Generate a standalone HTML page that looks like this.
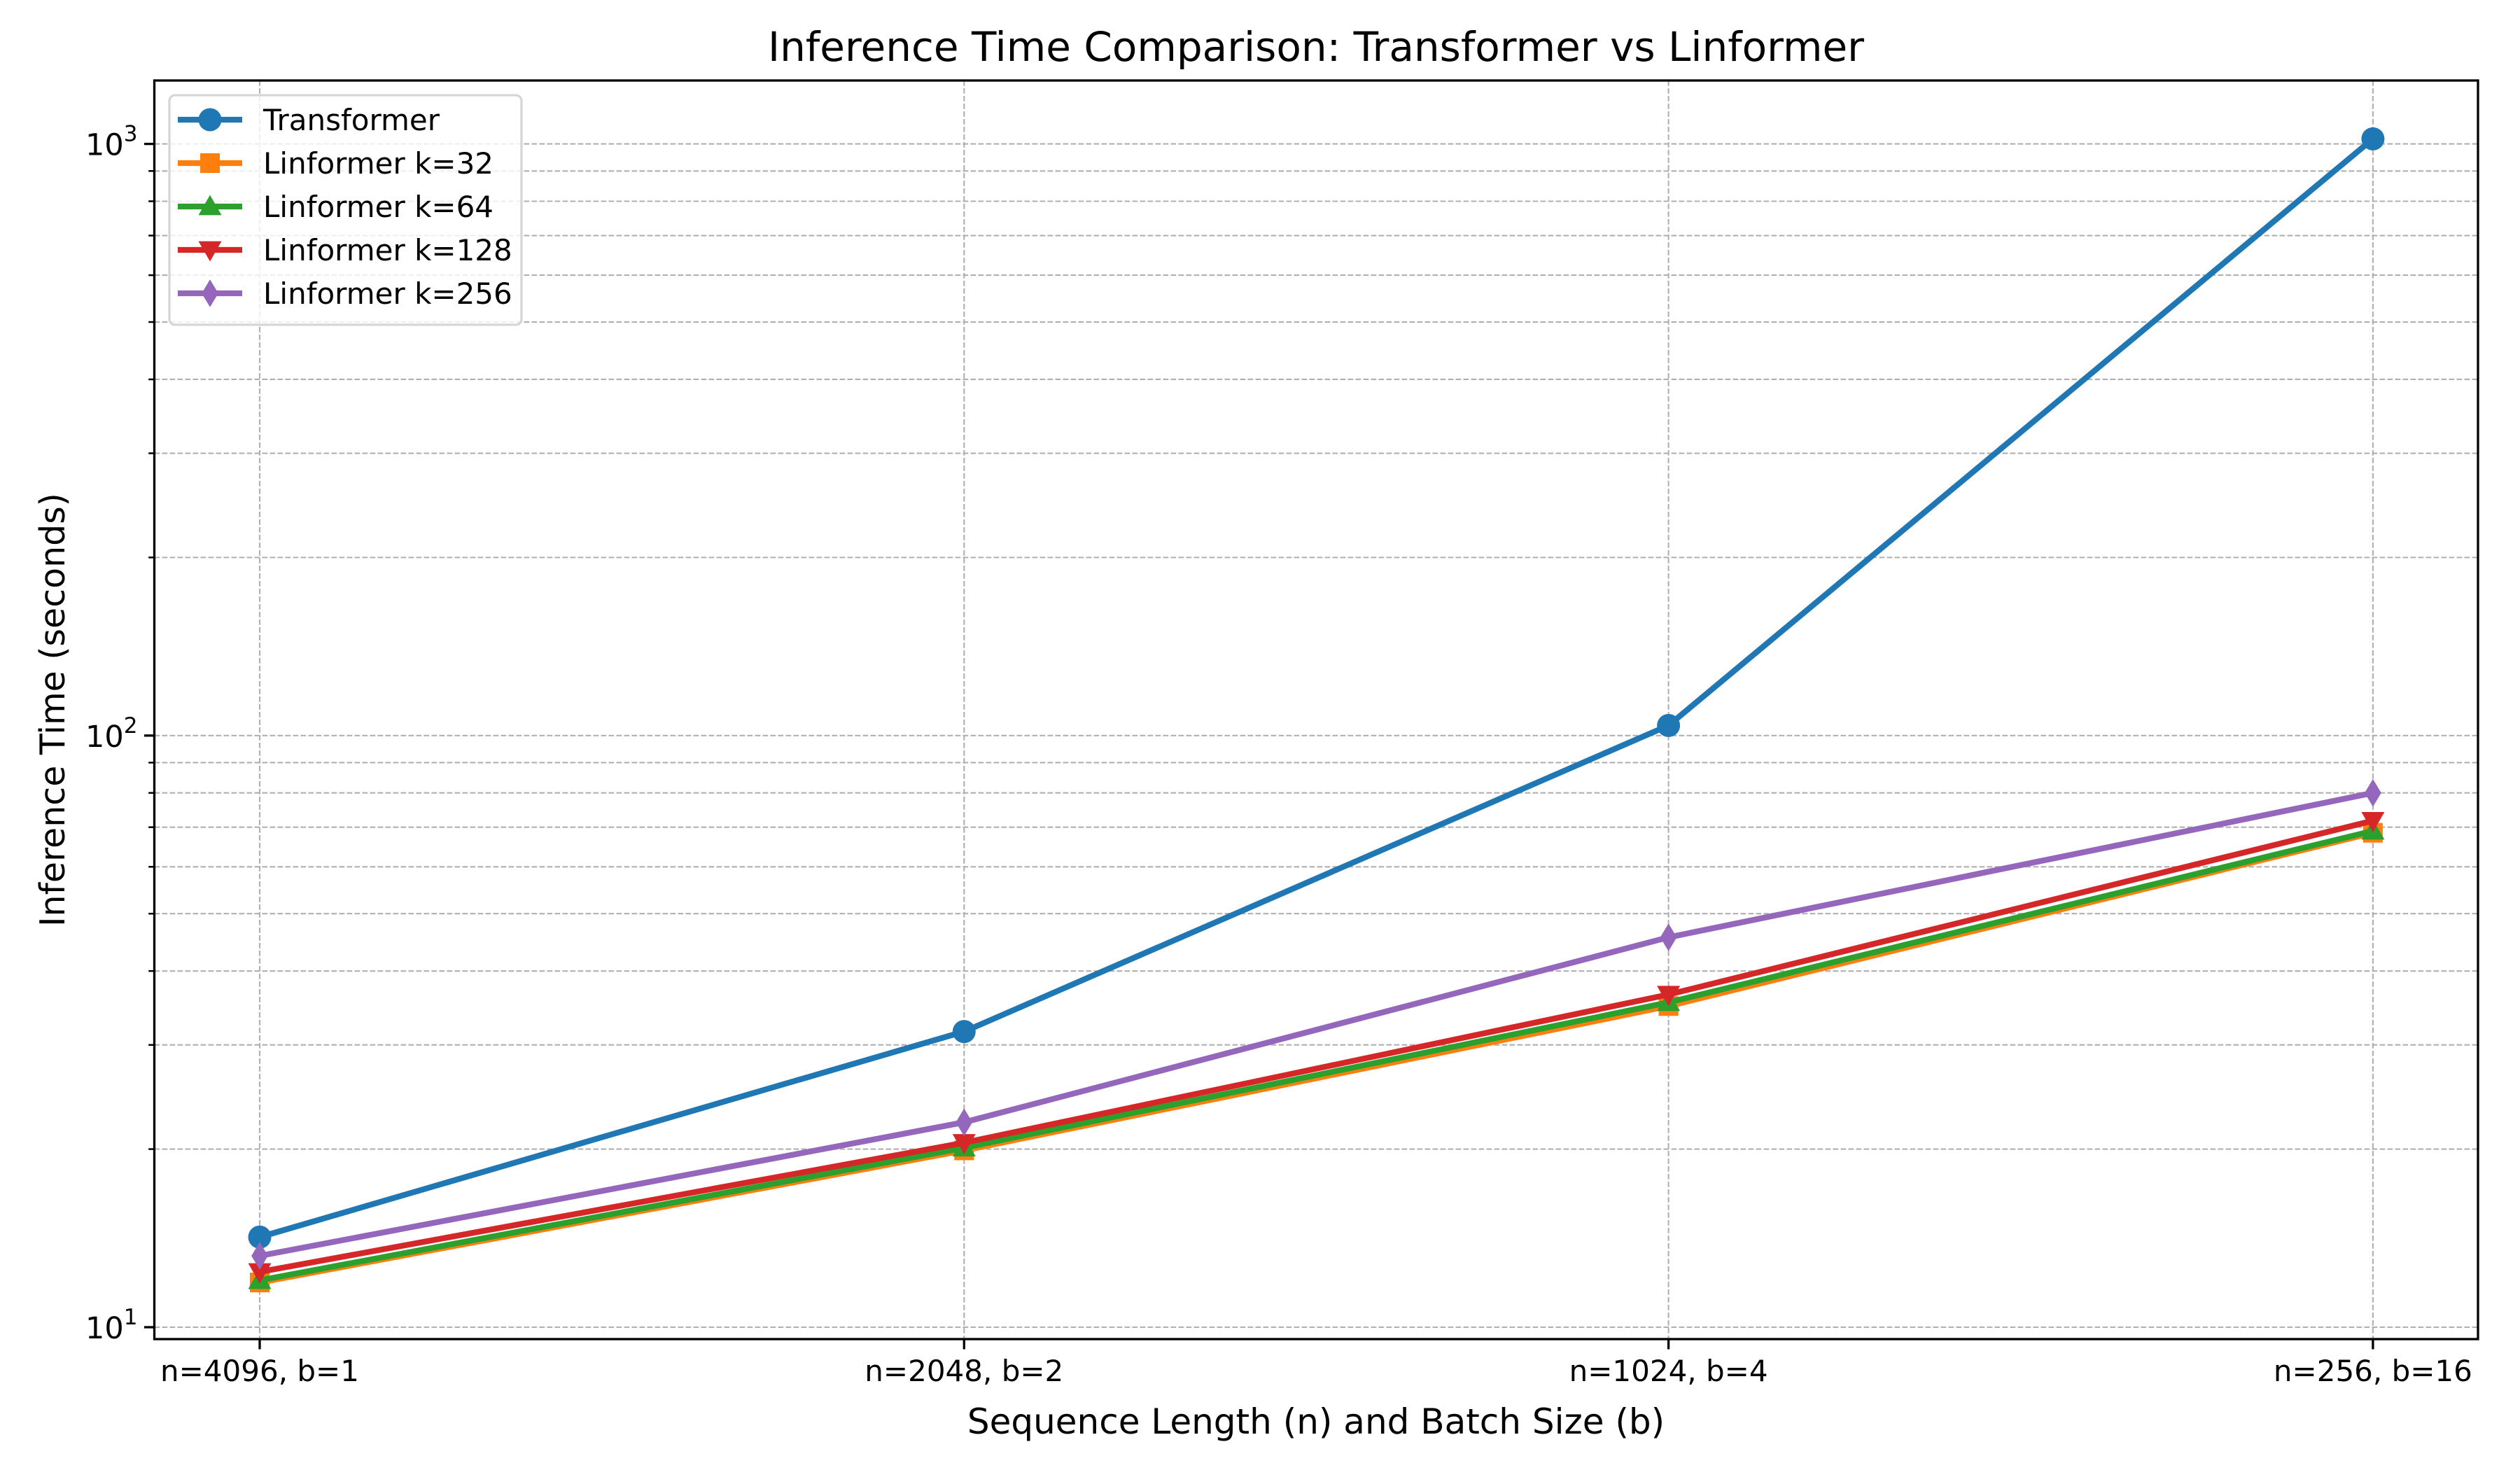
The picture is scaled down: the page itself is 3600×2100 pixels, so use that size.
<!DOCTYPE html>
<html><head><meta charset="utf-8"><style>
html,body{margin:0;padding:0;background:#fff;}
svg{display:block;font-family:"DejaVu Sans","Liberation Sans",sans-serif;}
</style></head><body>
<svg id="chart" width="3600" height="2100" viewBox="0 0 3600 2100" xmlns="http://www.w3.org/2000/svg">
<rect width="3600" height="2100" fill="#fff"/>
<g id="grid"></g>
<g id="series"></g>
<rect x="220.5" y="115" width="3319.5" height="1798" fill="none" stroke="#000" stroke-width="3.3"/>
<g id="ticks"></g>
<text x="1880" y="87" font-size="58" text-anchor="middle">Inference Time Comparison: Transformer vs Linformer</text>
<text x="1880" y="2048" font-size="50" text-anchor="middle">Sequence Length (n) and Batch Size (b)</text>
<text transform="translate(92,1014) rotate(-90)" font-size="49" text-anchor="middle">Inference Time (seconds)</text>
<g id="legend"></g>
</svg>
<script>
const categories = ["n=4096, b=1","n=2048, b=2","n=1024, b=4","n=256, b=16"];
const seriesNames = ["Transformer","Linformer k=32","Linformer k=64","Linformer k=128","Linformer k=256"];
const transformer = [14.2, 31.6, 104, 1020];
const linK32 = [11.9, 19.9, 34.9, 68.5];
const linK64 = [12.0, 20.1, 35.4, 69.0];
const linK128 = [12.4, 20.5, 36.5, 71.8];
const linK256 = [13.2, 22.2, 45.6, 80.0];
const yMajorTicks = [10, 100, 1000];
const yMajorLabels = ["1","2","3"];

const NS="http://www.w3.org/2000/svg";
const colors=["#1f77b4","#ff7f0e","#2ca02c","#d62728","#9467bd"];
const markers=["o","s","^","v","d"];
const allSeries=[transformer,linK32,linK64,linK128,linK256];
const L=220.5,R=3540,T=115,B=1913;
function xs(i){return 371+i*1006.3;}
function ys(v){return 1896-(Math.log10(v)-1)*845.2;}
function mk(tag,attrs,parent){const e=document.createElementNS(NS,tag);for(const k in attrs)e.setAttribute(k,attrs[k]);parent.appendChild(e);return e;}
const grid=document.getElementById('grid'),ticks=document.getElementById('ticks'),ser=document.getElementById('series'),leg=document.getElementById('legend');
categories.forEach((c,i)=>{
  const g=mk('line',{x1:xs(i),x2:xs(i),y1:T,y2:B,stroke:'#b0b0b0','stroke-width':2.1,'stroke-dasharray':'7.7,3.3'},grid);
  
  
  const t=mk('line',{x1:xs(i),x2:xs(i),y1:B,y2:B+14.5,stroke:'#000','stroke-width':3.3},ticks);
  
  
  const lb=mk('text',{x:xs(i),y:1973,'font-size':42,'text-anchor':'middle'},ticks);
  lb.textContent=c;
  
  
});
for(let d=1;d<=3;d++){
  for(let m=1;m<=9;m++){
    const v=m*Math.pow(10,d);
    const y=ys(v);
    if(y<T||y>B) continue;
    const g=mk('line',{x1:L,x2:R,y1:y,y2:y,stroke:'#b0b0b0','stroke-width':2.1,'stroke-dasharray':'7.7,3.3'},grid);
    
    
    const t=mk('line',{x1:L-(m===1?14.5:8.3),x2:L,y1:y,y2:y,stroke:'#000','stroke-width':m===1?3.3:2.5},ticks);
    
    
  }
}
yMajorTicks.forEach((v,i)=>{
  const lb=mk('text',{x:L-24,y:ys(v)+16,'font-size':43,'text-anchor':'end'},ticks);
  
  
  const a=document.createElementNS(NS,'tspan');a.textContent='10';lb.appendChild(a);
  const b=document.createElementNS(NS,'tspan');b.setAttribute('dy','-20');b.setAttribute('font-size','31');b.textContent=yMajorLabels[i];lb.appendChild(b);
});
function marker(type,cx,cy,color,parent){
  const r=16.5;let e;
  if(type==='o') e=mk('circle',{cx,cy,r},parent);
  else if(type==='s') e=mk('rect',{x:cx-r*0.85,y:cy-r*0.85,width:r*1.7,height:r*1.7},parent);
  else if(type==='^') e=mk('polygon',{points:`${cx},${cy-r} ${cx-r},${cy+r*0.75} ${cx+r},${cy+r*0.75}`},parent);
  else if(type==='v') e=mk('polygon',{points:`${cx},${cy+r} ${cx-r},${cy-r*0.75} ${cx+r},${cy-r*0.75}`},parent);
  else e=mk('polygon',{points:`${cx},${cy-r*1.2} ${cx+r*0.72},${cy} ${cx},${cy+r*1.2} ${cx-r*0.72},${cy}`},parent);
  e.setAttribute('fill',color);
  return e;
}
allSeries.forEach((vals,s)=>{
  const g=mk('g',{},ser);
  
  
  const pts=vals.map((v,i)=>xs(i)+','+ys(v)).join(' ');
  const pl=mk('polyline',{points:pts,fill:'none',stroke:colors[s],'stroke-width':8.3,'stroke-linejoin':'round','stroke-linecap':'square'},g);
  
  
  vals.forEach((v,i)=>{
    const m=marker(markers[s],xs(i),ys(v),colors[s],g);
    
    
  });
});
const box=mk('rect',{x:242,y:136,width:503,height:328,rx:8,fill:'#fff','fill-opacity':0.8,stroke:'#d6d6d6','stroke-width':3.3},leg);


seriesNames.forEach((n,s)=>{
  const y=171+s*62;
  const g=mk('g',{},leg);
  
  
  mk('line',{x1:254,x2:346,y1:y,y2:y,stroke:colors[s],'stroke-width':8.3},g);
  marker(markers[s],300,y,colors[s],g);
  const t=mk('text',{x:376,y:y+15,'font-size':42},g);
  t.textContent=n;
});
</script>
</body></html>
